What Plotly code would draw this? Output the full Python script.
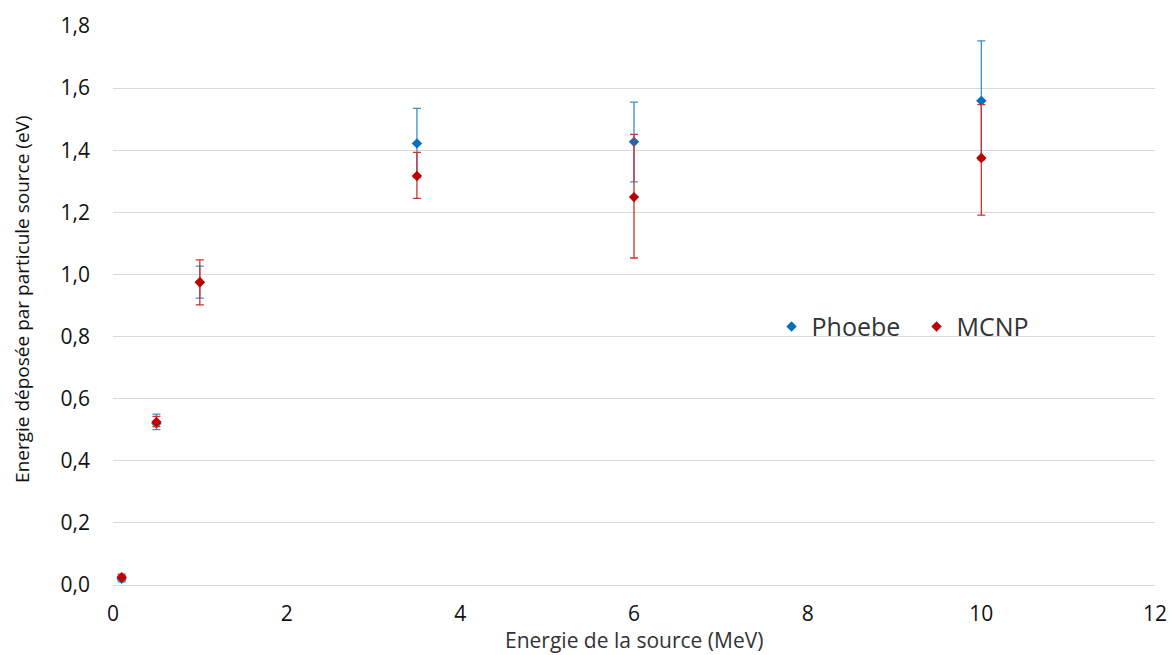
import plotly.graph_objects as go

energy = [0.1, 0.5, 1, 3.5, 6, 10]
phoebe = [0.02, 0.52, 0.975, 1.422, 1.427, 1.559]
phoebe_err_plus = [0.01, 0.03, 0.052, 0.113, 0.128, 0.193]
phoebe_err_minus = [0.01, 0.02, 0.051, 0.11, 0.129, 0.19]
mcnp = [0.025, 0.525, 0.975, 1.317, 1.249, 1.375]
mcnp_err_plus = [0.01, 0.018, 0.072, 0.076, 0.202, 0.172]
mcnp_err_minus = [0.01, 0.015, 0.073, 0.072, 0.196, 0.184]

x_ticks = [0, 2, 4, 6, 8, 10, 12]
y_ticks = [0, 0.2, 0.4, 0.6, 0.8, 1.0, 1.2, 1.4, 1.6, 1.8]
y_ticktext = ["0,0", "0,2", "0,4", "0,6", "0,8", "1,0", "1,2", "1,4", "1,6", "1,8"]

blue = "#0070C0"
red = "#C00000"

fig = go.Figure()
fig.add_trace(go.Scatter(
    x=energy, y=phoebe, mode="markers", name="Phoebe",
    marker=dict(symbol="diamond", size=8, color=blue),
    error_y=dict(type="data", symmetric=False, array=phoebe_err_plus,
                 arrayminus=phoebe_err_minus, color="#3A8FD0", thickness=1.3, width=4),
))
fig.add_trace(go.Scatter(
    x=energy, y=mcnp, mode="markers", name="MCNP",
    marker=dict(symbol="diamond", size=8, color=red),
    error_y=dict(type="data", symmetric=False, array=mcnp_err_plus,
                 arrayminus=mcnp_err_minus, color="#D03030", thickness=1.3, width=4),
))

fig.update_layout(
    width=1169, height=655,
    margin=dict(l=113, r=14, t=26, b=70, autoexpand=False),
    paper_bgcolor="white", plot_bgcolor="white",
    font=dict(family="Open Sans", color="#111111"),
    showlegend=True,
    legend=dict(orientation="h", x=0.632, y=0.462, xanchor="left", yanchor="middle",
                font=dict(size=25, color="#333333"), bgcolor="rgba(0,0,0,0)",
                itemwidth=30, entrywidth=100, entrywidthmode="pixels"),
    xaxis=dict(range=[0, 12], tickvals=x_ticks, showgrid=False, automargin=False,
               showline=True, linecolor="#D9D9D9", linewidth=1,
               ticks="", ticklabelstandoff=10,
               tickfont=dict(size=21, color="#111111"), zeroline=False),
    yaxis=dict(range=[0, 1.8], tickvals=y_ticks, ticktext=y_ticktext, automargin=False,
               showgrid=True, gridcolor="#D9D9D9", gridwidth=1, zeroline=False,
               showline=False, ticklabelstandoff=22, tickfont=dict(size=21, color="#111111")),
    annotations=[
        dict(text="Energie de la source (MeV)", xref="paper", yref="paper",
             x=0.5, y=0, yshift=-55, xanchor="center", yanchor="middle", showarrow=False,
             font=dict(size=21, color="#333333")),
        dict(text="Energie déposée par particule source (eV)", xref="paper", yref="paper",
             x=0, xshift=-91, y=0.51, xanchor="center", yanchor="middle", showarrow=False,
             textangle=-90, font=dict(size=19, color="#111111")),
    ],
)

fig.write_html("out.html", config={"displayModeBar": False},
               post_script="document.body.style.margin='0px';")
